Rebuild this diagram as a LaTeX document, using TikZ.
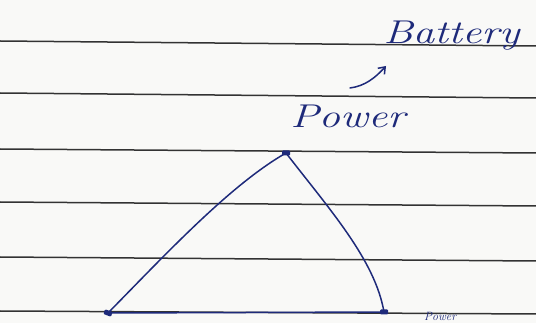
\documentclass[tikz,border=0pt]{standalone}
\usetikzlibrary{arrows.meta}
\definecolor{paper}{HTML}{F9F9F7}
\definecolor{rule}{HTML}{333333}
\definecolor{ink}{HTML}{1E2A7A}
\tikzset{
  ruling/.style={draw=rule, line width=1.5pt},
  inkline/.style={draw=ink, line width=1.5pt, line cap=round, line join=round},
  vertex/.style={fill=ink, inner sep=0pt, minimum width=8pt, minimum height=5pt, rounded corners=1pt},
  hand/.style={text=ink, font=\itshape\fontsize{33}{35}\selectfont, inner sep=0pt, xscale=1.3}
}
\begin{document}
\begin{tikzpicture}[x=1pt,y=-1pt]
  \useasboundingbox (0,0) rectangle (536,323);
  \fill[paper] (0,0) rectangle (536,323);
  % ruled lines
  \foreach \ya/\yb in {41/46, 93/98, 149/153, 202/206, 257/261, 311/314}
    \draw[ruling] (0,\ya) -- (536,\yb);
  % triangle vertices
  \coordinate (top) at (286,153);
  \coordinate (bl) at (108,313);
  \coordinate (br) at (384,312);
  \node[vertex] (vtop) at (top) {};
  \node[vertex, rotate=-20] (vbl) at (bl) {};
  \node[vertex] (vbr) at (br) {};
  \draw[inkline] (top) .. controls (230,185) and (165,255) .. (bl);
  \draw[inkline] (top) .. controls (330,210) and (375,260) .. (br);
  \draw[inkline] (bl) -- (br);
  % labels
  \node[hand, anchor=base west] (power) at (290,128) {Power};
  \node[hand, anchor=base west] (battery) at (383,44) {Battery};
  \coordinate (arrowstart) at (350,88);
  \draw[inkline, -{Straight Barb[length=6pt,width=9pt]}] (arrowstart) .. controls (365,86) and (375,78) .. (386,66);
  \node[text=ink, font=\itshape\fontsize{12}{12}\selectfont, inner sep=0pt, anchor=base west] (power2) at (424,320) {Power};
\end{tikzpicture}
\end{document}
